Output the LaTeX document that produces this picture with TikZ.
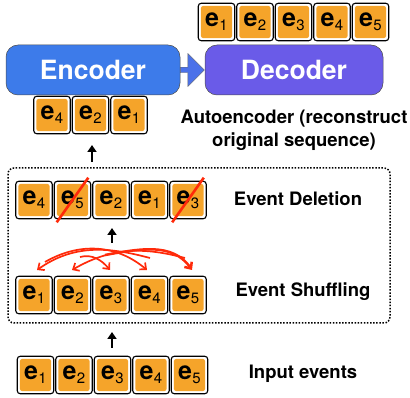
\documentclass[tikz,border=0pt]{standalone}
\usepackage{fontspec}
\setmainfont{TeX Gyre Heros}
\usetikzlibrary{arrows.meta,shapes.arrows}
\definecolor{evorange}{HTML}{F5A42A}
\definecolor{encblue}{HTML}{3D7BEA}
\definecolor{decpurple}{HTML}{6A5BE8}
\definecolor{shred}{HTML}{FF2A0A}
\newcommand{\ev}[1]{\fontsize{25}{25}\selectfont\bfseries e\kern0.3pt\raisebox{-0.3ex}{\fontsize{15}{15}\selectfont\mdseries #1}}
\tikzset{
  cell/.style={draw=black, line width=1.1pt, fill=white, rounded corners=3pt,
    minimum width=36.5pt, minimum height=37.5pt, inner sep=0pt,
    path picture={\fill[evorange, rounded corners=2.5pt]
      ([shift={(2.6pt,2.6pt)}]path picture bounding box.south west) rectangle
      ([shift={(-2.6pt,-2.6pt)}]path picture bounding box.north east);}},
  lab/.style={font=\fontsize{18.5}{23}\selectfont\bfseries, align=center},
  blk/.style={draw=black!70, line width=0.5pt, rounded corners=12pt, text=white,
    font=\fontsize{26.5}{26.5}\selectfont\bfseries, minimum height=50pt},
  uparrow/.style={-{Triangle[length=7pt,width=9pt]}, line width=2.2pt},
  shuf/.style={shred, line width=1.7pt, -{Straight Barb[length=5pt,width=9pt]}},
  cross/.style={shred, line width=2.6pt}
}
\begin{document}
\begin{tikzpicture}[x=1pt,y=-1pt]
\useasboundingbox (0,0) rectangle (410,398);
% Encoder / Decoder
\node[blk, fill=encblue, minimum width=174pt] (enc) at (93,70) {Encoder};
\node[blk, fill=decpurple, minimum width=178pt] (dec) at (294,70) {Decoder};
\node[single arrow, draw=black!60, line width=0.4pt, fill=encblue!70!decpurple,
  minimum height=24pt, minimum width=33pt, single arrow head extend=1pt,
  inner sep=0pt, shape border rotate=0] (mid) at (191,70) {};
% top output row
\foreach \i/\x in {1/216.5,2/255,3/293.5,4/332,5/370.5}
  \node[cell] (o\i) at (\x,22) {\ev{\i}};
% encoder input row
\node[cell] (a1) at (52,115) {\ev{4}};
\node[cell] (a2) at (90.5,115) {\ev{2}};
\node[cell] (a3) at (129,115) {\ev{1}};
\node[lab] (ae) at (294,130) {Autoencoder (reconstruct\\original sequence)};
% dotted box
\draw[line width=1.5pt, dash pattern=on 1.5pt off 1.6pt, rounded corners=6pt] (8,168) rectangle (390,323);
% deletion row
\node[cell] (d1) at (34,200) {\ev{4}};
\node[cell] (d2) at (72.5,200) {\ev{5}};
\node[cell] (d3) at (111,200) {\ev{2}};
\node[cell] (d4) at (149.5,200) {\ev{1}};
\node[cell] (d5) at (188,200) {\ev{3}};
\draw[cross] ([shift={(3pt,-3pt)}]d2.south west) -- ([shift={(-3pt,3pt)}]d2.north east);
\draw[cross] ([shift={(3pt,-3pt)}]d5.south west) -- ([shift={(-3pt,3pt)}]d5.north east);
\node[lab] (dl) at (298,199) {Event Deletion};
% shuffling row
\foreach \i/\x in {1/34,2/72.5,3/111,4/149.5,5/188}
  \node[cell] (s\i) at (\x,295) {\ev{\i}};
\node[lab] (sl) at (303,292) {Event Shuffling};
% input row
\foreach \i/\x in {1/35.5,2/74,3/112.5,4/151,5/189.5}
  \node[cell] (n\i) at (\x,375) {\ev{\i}};
\node[lab] (il) at (303,374) {Input events};
% shuffle arrows
\coordinate (t1) at (37,270);
\coordinate (t2) at (72,270);
\coordinate (t3) at (110,270);
\coordinate (t4) at (147,270);
\coordinate (t5) at (192,270);
\draw[shuf] (150,258) to[out=165,in=35] (t1);
\draw[shuf] (185,258) to[out=165,in=30] (t2);
\draw[shuf] (80,257) to[out=15,in=130] (t3);
\draw[shuf] (45,262) to[out=30,in=140] (t4);
\draw[shuf, line width=2.5pt] (105,255) to[out=10,in=125] (t5);
% up arrows
\draw[uparrow] (112,348) -- (112,332);
\draw[uparrow] (112,243) -- (112,228);
\draw[uparrow] (92,162) -- (92,145);
\end{tikzpicture}
\end{document}
